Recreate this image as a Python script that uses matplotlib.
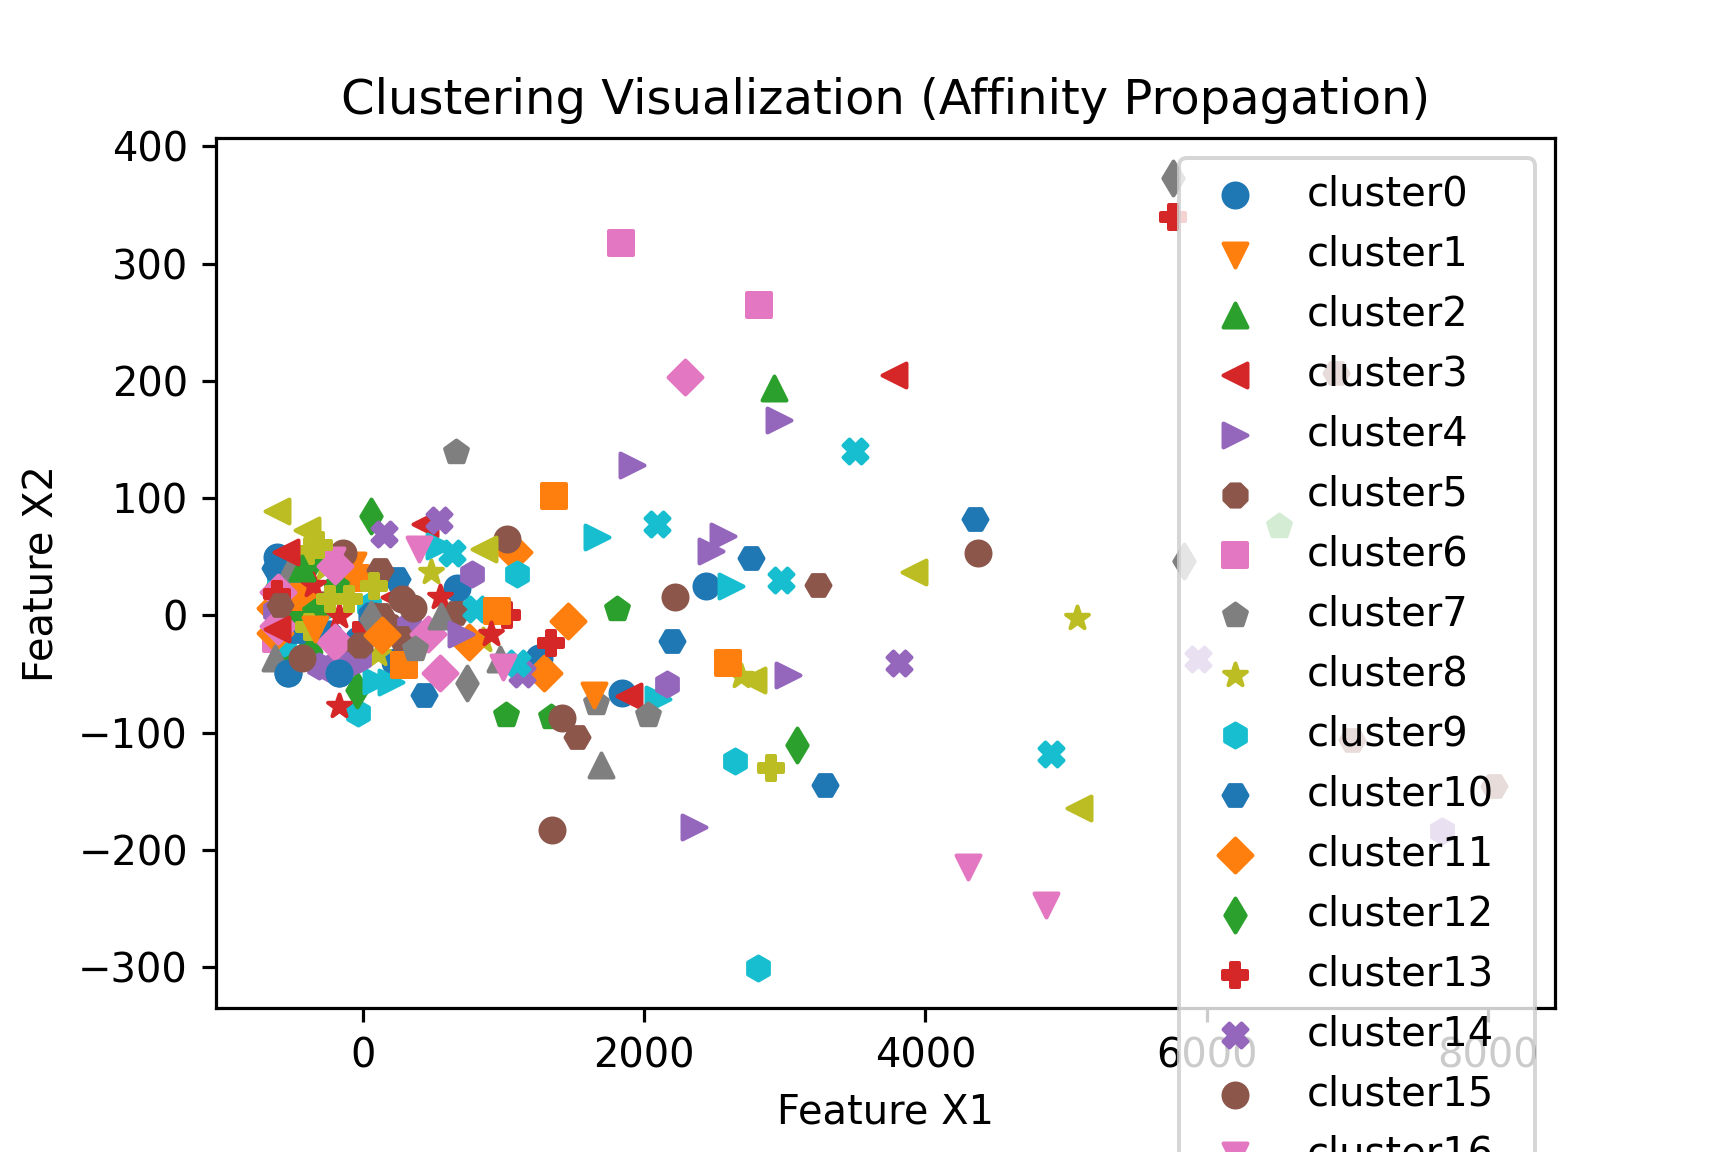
import matplotlib
matplotlib.use('Agg')
from matplotlib import pyplot as plt

# points, one list per cluster (x1, x2)
cluster0 = [(-533, -49), (-172, -49), (2441, 25), (1842, -66), (671, 23), (1254, -36), (-606, 50), (-37, -21), (233, -40)]
cluster1 = [(-68, 43)]
cluster2 = [(2924, 194), (-606, 32), (-549, -29), (-382, -21)]
cluster3 = [(3779, 205), (441, 78), (223, 16)]
cluster4 = [(1911, 128), (2963, 167), (2559, 68), (3021, -51), (2352, -181)]
cluster5 = [(-300, 10), (-120, -30), (200, -10)]
cluster6 = [(1835, 318), (2815, 265), (-619, -20), (-480, 30)]
cluster7 = [(666, 139), (1662, -75), (70, -10)]
cluster8 = [(2688, -52), (5080, -2), (488, 37), (852, -21), (109, -33), (-270, 40)]
cluster9 = [(2644, -124), (2807, -301), (-37, -83), (45, 8), (-300, 5), (-560, -24), (-596, 30)]
cluster10 = [(2761, 49), (4351, 82), (2196, -22), (3285, -145), (436, -68), (246, 31), (-467, -13), (-620, 40)]
cluster11 = [(1076, 54), (1463, -5), (1290, -49), (757, -23), (-620, 6), (-620, -15)]
cluster12 = [(61, 85), (3085, -111), (-357, 47), (-44, -64), (-477, 3)]
cluster13 = [(5762, 340), (1029, 0), (1337, -24), (20, -10)]
cluster14 = [(150, 69), (543, 81), (3816, -41), (5935, -37), (1136, -50)]
cluster15 = [(1029, 65), (2217, 16), (4375, 53), (1348, -183), (-138, 53)]
cluster16 = [(4304, -215), (4861, -247), (-215, 47)]
cluster17 = [(1693, -128), (977, -37), (-620, -36), (-521, 34), (-497, 44)]
cluster18 = [(-607, 89), (-394, 73), (863, 57), (3920, 37), (2772, -55), (5096, -164)]
cluster19 = [(1669, 67), (543, 59), (2619, 25), (2096, -71), (92, -56), (199, -57)]
cluster20 = [(-250, -15), (60, 0)]
cluster21 = [(1362, 102), (2600, -41), (294, -42), (-49, 32), (-428, 16)]
cluster22 = [(1805, 5), (1022, -85), (1337, -87), (6515, 76), (-336, 3), (-193, 25)]
cluster23 = [(551, 16), (-350, 26), (-165, -1), (-172, -77)]
cluster24 = [(780, 35), (2164, -59), (7675, -184), (-625, 4), (-308, -43), (-26, -37), (330, -8), (-250, -45), (-110, -42)]
cluster25 = [(3235, 26), (1527, -104), (6923, 207), (7032, -106), (8044, -146), (662, 2), (122, 39), (269, -19), (127, 0)]
cluster26 = [(2289, 203), (549, -49), (-197, 42), (-197, -23), (-600, 20), (-600, -9)]
cluster27 = [(5762, 373), (5841, 46), (745, -58), (60, -3)]
cluster28 = [(2900, -130), (-380, -10), (-382, 55), (-310, 60)]
cluster29 = [(3498, 140), (2089, 78), (2974, 30), (4892, -118), (638, 53), (804, 5), (1098, -41)]
cluster30 = [(-530, -49), (-168, -49)]
cluster31 = [(1641, -68)]
cluster32 = [(-430, 40)]
cluster33 = [(1890, -69)]
cluster34 = [(2476, 55)]
cluster35 = [(-20, -25)]
cluster37 = [(2025, -85)]
cluster39 = [(1100, 35)]
cluster45 = [(1420, -88), (361, 6), (282, 14)]
cluster46 = [(401, 57), (994, -44)]
cluster56 = [(467, -16)]
cluster58 = [(80, 25), (-98, 14), (-236, 14)]
cluster63 = [(-542, 54)]
cluster67 = [(370, -29)]
cluster71 = [(140, -17)]
cluster73 = [(-606, 18)]
cluster75 = [(-435, -36)]
cluster77 = [(555, -1)]
cluster81 = [(954, 4)]
cluster83 = [(909, -16)]
cluster85 = [(-585, 9)]
cluster91 = [(-336, -12)]
cluster93 = [(-606, -12)]
cluster94 = [(697, -16)]

clusters = {0: cluster0, 1: cluster1, 2: cluster2, 3: cluster3, 4: cluster4, 5: cluster5,
            6: cluster6, 7: cluster7, 8: cluster8, 9: cluster9, 10: cluster10, 11: cluster11,
            12: cluster12, 13: cluster13, 14: cluster14, 15: cluster15, 16: cluster16,
            17: cluster17, 18: cluster18, 19: cluster19, 20: cluster20, 21: cluster21,
            22: cluster22, 23: cluster23, 24: cluster24, 25: cluster25, 26: cluster26,
            27: cluster27, 28: cluster28, 29: cluster29, 30: cluster30, 31: cluster31,
            32: cluster32, 33: cluster33, 34: cluster34, 35: cluster35, 37: cluster37,
            39: cluster39, 45: cluster45, 46: cluster46, 56: cluster56, 58: cluster58,
            63: cluster63, 67: cluster67, 71: cluster71, 73: cluster73, 75: cluster75,
            77: cluster77, 81: cluster81, 83: cluster83, 85: cluster85, 91: cluster91,
            93: cluster93, 94: cluster94}
n_clusters = 101

markers = ['o', 'v', '^', '<', '>', '8', 's', 'p', '*', 'h', 'H', 'D', 'd', 'P', 'X']

fig = plt.figure(figsize=(6, 4), dpi=288)
ax = fig.add_axes([0.125, 0.125, 0.775, 0.755])

for i in range(n_clusters):
    pts = clusters.get(i, [])
    ax.scatter([p[0] for p in pts], [p[1] for p in pts], color='C' + str(i % 10),
               marker=markers[i % len(markers)], label='cluster' + str(i),
               joinstyle='round')

ax.set_xlim(-1043, 8478)
ax.set_ylim(-335, 407)
ax.set_xticks([0, 2000, 4000, 6000, 8000])
ax.set_yticks([-300, -200, -100, 0, 100, 200, 300, 400])
ax.set_xlabel('Feature X1')
ax.set_ylabel('Feature X2')
ax.set_title('Clustering Visualization (Affinity Propagation)')
ax.legend(loc='upper right')

fig.savefig('out.png')
